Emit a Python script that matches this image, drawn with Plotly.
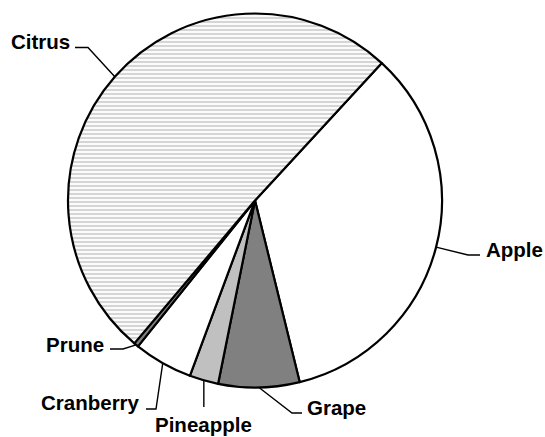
import math
import plotly.graph_objects as go

# ---- data ----
labels = ["Apple", "Grape", "Pineapple", "Cranberry", "Prune", "Citrus"]
values = [34.3, 7.0, 2.5, 5.1, 0.4, 50.7]
colors = ["#ffffff", "#808080", "#c0c0c0", "#ffffff", "#808080", "#ffffff"]
patterns = ["", "", "", "", "", "-"]

W, H = 545, 437
CX, CY, R = 255.0, 200.5, 187.0
ROT = 42.7

# label layout: (elbow, end, text pos, anchor)
label_layout = {
    "Apple":     dict(elbow=(468, 255), end=(480, 255), text=(484, 249), anchor="left"),
    "Grape":     dict(elbow=(292, 413), end=(302, 413), text=(305, 407), anchor="left"),
    "Pineapple": dict(elbow=None,       end=(None, 407), text=(None, 424), anchor="center"),
    "Cranberry": dict(elbow=(156, 409), end=(146, 409), text=(142, 402), anchor="right"),
    "Prune":     dict(elbow=(123, 349), end=(110, 349), text=(106, 344), anchor="right"),
    "Citrus":    dict(elbow=(88, 47.5), end=(75, 47.5), text=(72, 41),   anchor="right"),
}

fig = go.Figure()
fig.add_trace(go.Pie(
    labels=labels, values=values, sort=False, direction="clockwise",
    rotation=ROT, textinfo="none", showlegend=False,
    marker=dict(colors=colors, line=dict(color="black", width=2.2),
                pattern=dict(shape=patterns, fgcolor="#ababab", bgcolor="#ffffff",
                             size=4, solidity=0.55, fillmode="overlay")),
    domain=dict(x=[(CX - R) / W, (CX + R) / W], y=[1 - (CY + R) / H, 1 - (CY - R) / H]),
))

total = sum(values)
cum = 0.0
annotations = []
for lab, v in zip(labels, values):
    mid = ROT + (cum + v / 2) / total * 360
    cum += v
    a = math.radians(mid)
    ax, ay = CX + R * math.sin(a), CY - R * math.cos(a)
    L = label_layout[lab]
    if L["elbow"] is None:
        xs, ys = [ax, ax], [ay, L["end"][1]]
        tx, ty = ax, L["text"][1]
    else:
        xs = [ax, L["elbow"][0], L["end"][0]]
        ys = [ay, L["elbow"][1], L["end"][1]]
        tx, ty = L["text"]
    fig.add_trace(go.Scatter(x=xs, y=ys, mode="lines", line=dict(color="black", width=1.4),
                             hoverinfo="skip", showlegend=False))
    annotations.append(dict(x=tx, y=ty, xref="x", yref="y", text="<b>%s</b>" % lab,
                            showarrow=False, xanchor=L["anchor"], yanchor="middle",
                            font=dict(family="Liberation Sans, Arial", size=20.5, color="black")))

fig.update_layout(
    width=W, height=H, margin=dict(l=0, r=0, t=0, b=0),
    paper_bgcolor="white", plot_bgcolor="rgba(0,0,0,0)",
    xaxis=dict(range=[0, W], visible=False, fixedrange=True),
    yaxis=dict(range=[H, 0], visible=False, fixedrange=True),
    annotations=annotations, showlegend=False,
)
fig.write_html("out.html", config={"displayModeBar": False},
               post_script="document.body.style.margin='0px';")
